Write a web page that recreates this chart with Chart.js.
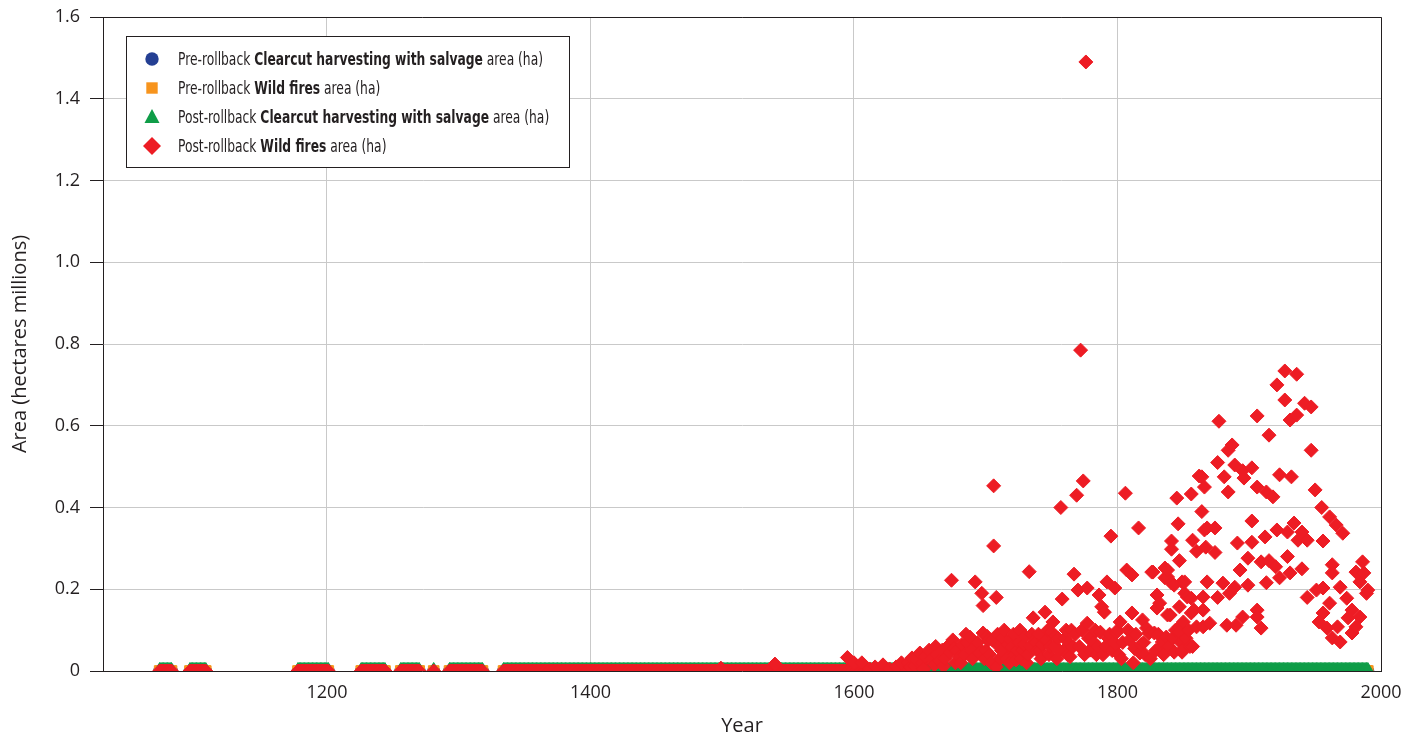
<!DOCTYPE html>
<html>
<head>
<meta charset="utf-8">
<script src="https://cdn.jsdelivr.net/npm/chart.js@4.4.1/dist/chart.umd.min.js"></script>
<style>
  body { margin: 0; background: #fff; }
  canvas { display: block; }
</style>
</head>
<body>
<canvas id="chart" width="1419" height="738"></canvas>
<script>
// year spans (annual records) where the runs report a value
const yearSpans = [[1073, 1082], [1096, 1108], [1178, 1201], [1226, 1244], [1256, 1270], [1281, 1281], [1293, 1318], [1334, 1990]];
// early fire records sit on the zero line up to here
const fireZeroUntil = 1640;

// wild fire areas that lift off the zero line (millions ha)
const fireYears = [
  1499, 1540, 1595, 1600, 1606, 1612, 1616, 1622, 1627, 1632, 1636,
  1641, 1643, 1644, 1646, 1648, 1650, 1652, 1653, 1654, 1657, 1659, 1661, 1662, 1663, 1665,
  1667, 1668, 1669, 1671, 1673, 1674, 1675, 1676, 1677, 1678, 1680, 1681, 1682, 1684, 1685, 1686, 1688, 1689,
  1690, 1692, 1693, 1694, 1695, 1697, 1698, 1698, 1699, 1700, 1701, 1702, 1703, 1704, 1705, 1706, 1706, 1708, 1708, 1709,
  1710, 1711, 1712, 1713, 1714, 1715, 1716, 1717, 1718, 1719, 1720, 1721, 1722, 1723, 1724, 1725, 1726, 1727, 1728, 1729,
  1730, 1731, 1732, 1733, 1734, 1735, 1736, 1737, 1738, 1739, 1740, 1741, 1742, 1743, 1744, 1745, 1746, 1747, 1748, 1749,
  1750, 1751, 1752, 1753, 1754, 1755, 1756, 1757, 1758, 1759, 1760, 1761, 1762, 1763, 1764, 1765, 1766, 1767, 1768, 1769,
  1770, 1771, 1772, 1773, 1774, 1775, 1776, 1777, 1777, 1778, 1779, 1780, 1781, 1782, 1783, 1784, 1785, 1786, 1787, 1788, 1789,
  1790, 1791, 1792, 1793, 1794, 1795, 1796, 1797, 1798, 1799, 1799, 1800, 1801, 1802, 1803, 1804, 1806, 1807, 1808, 1809,
  1811, 1811, 1812, 1813, 1814, 1816, 1817, 1818, 1819, 1820, 1821, 1822, 1824, 1825, 1826, 1827, 1828, 1829,
  1830, 1830, 1831, 1832, 1833, 1834, 1835, 1836, 1836, 1837, 1838, 1838, 1838, 1839, 1840, 1841, 1841, 1841, 1842, 1843, 1843, 1844,
  1845, 1846, 1847, 1847, 1847, 1847, 1848, 1849, 1849, 1849, 1850, 1851, 1851, 1852, 1853, 1854, 1855, 1856, 1856, 1856, 1857, 1857, 1858,
  1860, 1860, 1862, 1864, 1864, 1865, 1865, 1865, 1866, 1866, 1867, 1868, 1868, 1870, 1874, 1874, 1876, 1876, 1877,
  1880, 1881, 1883, 1884, 1884, 1885, 1887, 1889, 1889, 1890, 1891, 1893, 1895, 1895, 1896, 1899, 1899,
  1902, 1902, 1902, 1906, 1906, 1906, 1906, 1909, 1909, 1912, 1913, 1913, 1915, 1915, 1918,
  1920, 1921, 1921, 1923, 1923, 1927, 1927, 1929, 1929, 1931, 1931, 1932, 1934, 1936, 1936, 1937,
  1940, 1940, 1942, 1944, 1944, 1947, 1947, 1950, 1951, 1953, 1955, 1956, 1956, 1956, 1959,
  1961, 1961, 1963, 1963, 1963, 1966, 1967, 1969, 1969, 1971, 1974, 1975, 1978, 1978,
  1981, 1981, 1984, 1984, 1986, 1987, 1989, 1990
];
const fireArea = [
  0.007, 0.017, 0.033, 0.02, 0.02, 0.005, 0.01, 0.015, 0.005, 0.01, 0.02,
  0.02, 0.01, 0.032, 0.012, 0.025, 0.044, 0.02, 0.005, 0.035, 0.051, 0.03, 0.015, 0.06, 0.04, 0.025,
  0.051, 0.012, 0.03, 0.06, 0.045, 0.222, 0.076, 0.055, 0.02, 0.05, 0.034, 0.02, 0.065, 0.04, 0.09, 0.07, 0.083, 0.05,
  0.03, 0.218, 0.06, 0.07, 0.044, 0.19, 0.093, 0.16, 0.03, 0.05, 0.085, 0.075, 0.04, 0.02, 0.076, 0.453, 0.306, 0.18, 0.01, 0.09,
  0.06, 0.03, 0.05, 0.081, 0.1, 0.045, 0.03, 0.065, 0.02, 0.075, 0.059, 0.09, 0.04, 0.027, 0.05, 0.07, 0.1, 0.03, 0.051, 0.065,
  0.085, 0.02, 0.04, 0.243, 0.06, 0.09, 0.13, 0.076, 0.07, 0.05, 0.09, 0.05, 0.03, 0.065, 0.08, 0.144, 0.076, 0.1, 0.04, 0.06,
  0.095, 0.12, 0.06, 0.085, 0.03, 0.08, 0.05, 0.40, 0.176, 0.05, 0.08, 0.1, 0.04, 0.07, 0.035, 0.1, 0.059, 0.237, 0.09, 0.43,
  0.198, 0.06, 0.785, 0.1, 0.465, 0.04, 1.49, 0.203, 0.117, 0.08, 0.051, 0.085, 0.05, 0.07, 0.1, 0.04, 0.06, 0.186, 0.095, 0.157, 0.04,
  0.144, 0.06, 0.218, 0.08, 0.09, 0.33, 0.05, 0.07, 0.203, 0.093, 0.064, 0.1, 0.04, 0.12, 0.03, 0.07, 0.435, 0.247, 0.1, 0.076,
  0.235, 0.142, 0.02, 0.055, 0.09, 0.35, 0.044, 0.065, 0.125, 0.07, 0.04, 0.105, 0.093, 0.03, 0.242, 0.242, 0.093, 0.05,
  0.186, 0.154, 0.09, 0.166, 0.06, 0.071, 0.04, 0.252, 0.228, 0.083, 0.23, 0.137, 0.247, 0.06, 0.137, 0.215, 0.318, 0.298, 0.08, 0.21, 0.046, 0.1,
  0.423, 0.36, 0.27, 0.157, 0.108, 0.095, 0.07, 0.218, 0.046, 0.051, 0.12, 0.19, 0.218, 0.08, 0.181, 0.1, 0.06, 0.433, 0.178, 0.142, 0.32, 0.06, 0.149,
  0.293, 0.108, 0.477, 0.39, 0.475, 0.181, 0.149, 0.108, 0.45, 0.345, 0.303, 0.35, 0.218, 0.117, 0.35, 0.29, 0.51, 0.18, 0.611,
  0.215, 0.475, 0.112, 0.54, 0.438, 0.19, 0.553, 0.504, 0.205, 0.112, 0.313, 0.247, 0.49, 0.132, 0.472, 0.276, 0.21,
  0.497, 0.367, 0.315, 0.624, 0.45, 0.149, 0.132, 0.267, 0.105, 0.328, 0.438, 0.216, 0.577, 0.27, 0.426,
  0.255, 0.70, 0.345, 0.48, 0.228, 0.734, 0.663, 0.34, 0.28, 0.614, 0.24, 0.475, 0.362, 0.726, 0.626, 0.32,
  0.34, 0.25, 0.655, 0.32, 0.18, 0.646, 0.54, 0.443, 0.198, 0.12, 0.40, 0.318, 0.203, 0.142, 0.105,
  0.377, 0.166, 0.26, 0.24, 0.081, 0.357, 0.108, 0.205, 0.071, 0.337, 0.178, 0.13, 0.149, 0.093,
  0.242, 0.108, 0.218, 0.132, 0.267, 0.24, 0.19, 0.198
];

const xTicks = [1200, 1400, 1600, 1800, 2000];
const yTicks = [0, 0.2, 0.4, 0.6, 0.8, 1.0, 1.2, 1.4, 1.6];

const seriesNames = [
  ['Pre-rollback ', 'Clearcut harvesting with salvage', ' area (ha)'],
  ['Pre-rollback ', 'Wild fires', ' area (ha)'],
  ['Post-rollback ', 'Clearcut harvesting with salvage', ' area (ha)'],
  ['Post-rollback ', 'Wild fires', ' area (ha)']
];
const seriesColors = ['#243f93', '#f7941d', '#0f9d48', '#ed1c24'];
const seriesShapes = ['circle', 'rect', 'triangle', 'rectRot'];

// every recorded year, all spans
let allYears = [];
yearSpans.forEach(function (s) {
  for (let y = s[0]; y <= s[1]; y++) allYears.push(y);
});

// harvesting areas are tiny next to fires, they sit on zero
const zeroPoints = allYears.map(y => ({ x: y, y: 0 }));
let firePoints = allYears.filter(y => y <= fireZeroUntil).map(y => ({ x: y, y: 0 }));
fireYears.forEach(function (y, i) {
  firePoints.push({ x: y, y: fireArea[i] });
});

const textColor = '#231f20';
const gridColor = '#c9c9c9';
const labelFont = "'DejaVu Sans Condensed', 'Open Sans', sans-serif";

// рамка сверху и справа
const frame = {
  id: 'frame',
  beforeDatasetsDraw(chart) {
    const a = chart.chartArea;
    const ctx = chart.ctx;
    ctx.save();
    ctx.strokeStyle = textColor;
    ctx.lineWidth = 1;
    ctx.beginPath();
    ctx.moveTo(a.left, a.top + 0.5);
    ctx.lineTo(a.right + 0.5, a.top + 0.5);
    ctx.lineTo(a.right + 0.5, a.bottom);
    ctx.stroke();
    ctx.restore();
  }
};

function drawMarker(ctx, shape, x, y, color) {
  ctx.fillStyle = color;
  ctx.beginPath();
  if (shape === 'circle') {
    ctx.arc(x, y, 6.7, 0, Math.PI * 2);
  } else if (shape === 'rect') {
    ctx.rect(x - 5.7, y - 5.7, 11.4, 11.4);
  } else if (shape === 'triangle') {
    ctx.moveTo(x, y - 8);
    ctx.lineTo(x + 7.5, y + 6);
    ctx.lineTo(x - 7.5, y + 6);
  } else {
    ctx.moveTo(x, y - 9);
    ctx.lineTo(x + 9, y);
    ctx.lineTo(x, y + 9);
    ctx.lineTo(x - 9, y);
  }
  ctx.closePath();
  ctx.fill();
}

function legendFont(j) {
  return (j === 1 ? 'bold ' : '') + '17.5px ' + labelFont;
}

// легенда с жирными кусками текста
const richLegend = {
  id: 'richLegend',
  afterDraw(chart) {
    const ctx = chart.ctx;
    const box = { x: 126.5, y: 36.5, w: 443, h: 131 };
    const rows = [59, 88, 117, 146];
    ctx.save();
    ctx.fillStyle = '#fff';
    ctx.fillRect(box.x, box.y, box.w, box.h);
    ctx.strokeStyle = textColor;
    ctx.lineWidth = 1;
    ctx.strokeRect(box.x, box.y, box.w, box.h);

    // the first row should run 365px wide, squeeze the text to that
    let w = 0;
    seriesNames[0].forEach(function (t, j) {
      ctx.font = legendFont(j);
      w += ctx.measureText(t).width;
    });
    const squeeze = 365 / w;

    ctx.textBaseline = 'middle';
    seriesNames.forEach(function (parts, i) {
      drawMarker(ctx, seriesShapes[i], 152, rows[i], seriesColors[i]);
      let x = 0;
      ctx.save();
      ctx.translate(178, rows[i] + 1);
      ctx.scale(squeeze, 1);
      parts.forEach(function (t, j) {
        ctx.font = legendFont(j);
        ctx.fillStyle = textColor;
        ctx.fillText(t, x, 0);
        x += ctx.measureText(t).width;
      });
      ctx.restore();
    });
    ctx.restore();
  }
};

function makeSet(i, data, radius) {
  return {
    label: seriesNames[i].join(''),
    data: data,
    pointStyle: seriesShapes[i],
    pointRadius: radius,
    pointHoverRadius: radius,
    backgroundColor: seriesColors[i],
    borderColor: seriesColors[i],
    borderWidth: 1,
    showLine: false,
    order: 4 - i
  };
}

new Chart(document.getElementById('chart'), {
  type: 'scatter',
  data: {
    datasets: [
      makeSet(0, zeroPoints, 6),
      makeSet(1, zeroPoints, 7.5),
      makeSet(2, zeroPoints, 8.5),
      makeSet(3, firePoints, 7)
    ]
  },
  options: {
    responsive: false,
    animation: false,
    layout: { padding: { left: 0, right: 38, top: 17, bottom: 0 } },
    plugins: {
      legend: { display: false },
      tooltip: { enabled: false }
    },
    scales: {
      x: {
        type: 'linear',
        min: 1030,
        max: 2000,
        afterBuildTicks: axis => { axis.ticks = xTicks.map(v => ({ value: v })); },
        afterFit: scale => {
          scale.height = 67;
          scale.paddingLeft = 0;
          scale.paddingRight = 0;
        },
        grid: { color: gridColor, drawTicks: false },
        border: { color: textColor, width: 1 },
        ticks: {
          color: textColor,
          padding: 11,
          maxRotation: 0,
          font: { family: "'Open Sans', sans-serif", size: 18 },
          callback: v => String(v)
        },
        title: {
          display: true,
          text: 'Year',
          color: textColor,
          padding: { top: 0, bottom: 0 },
          font: { family: "'Open Sans', sans-serif", size: 20 }
        }
      },
      y: {
        min: 0,
        max: 1.6,
        afterBuildTicks: axis => { axis.ticks = yTicks.map(v => ({ value: v })); },
        afterFit: scale => {
          scale.width = 103;
          scale.paddingTop = 0;
          scale.paddingBottom = 0;
        },
        grid: { color: gridColor, tickColor: textColor, tickLength: 13 },
        border: { color: textColor, width: 1 },
        ticks: {
          color: textColor,
          padding: 10,
          font: { family: "'Open Sans', sans-serif", size: 18 },
          callback: v => v === 0 ? '0' : v.toFixed(1)
        },
        title: {
          display: true,
          text: 'Area (hectares millions)',
          color: textColor,
          padding: { top: 8, bottom: 0 },
          font: { family: "'Open Sans', sans-serif", size: 20 }
        }
      }
    }
  },
  plugins: [frame, richLegend]
});
</script>
</body>
</html>
